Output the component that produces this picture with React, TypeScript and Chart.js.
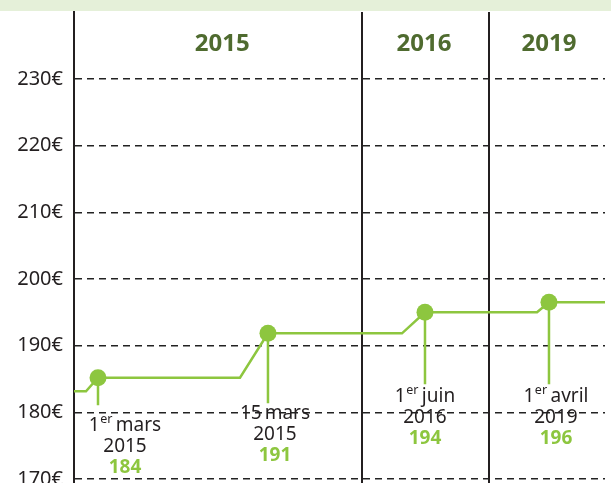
import React, { useEffect, useRef } from "react";
import { Chart, registerables } from "chart.js";

Chart.register(...registerables);

// ---- data ----
const lineX = [0, 2.26, 4.52, 31.26, 36.53, 61.77, 66.1, 87.2, 89.45, 100];
const lineY = [183.15, 183.15, 185.2, 185.2, 191.85, 191.85, 195.0, 195.0, 196.5, 196.5];
const markerIndex = [2, 4, 6, 8];
const stemEnd = [181.05, 181.35, 184.2, 184.2];
const dayLabels = ["1", "15", "1", "1"];
const supLabels = ["er", "", "er", "er"];
const monthLabels = ["mars", "mars", "juin", "avril"];
const yearLabels = ["2015", "2015", "2016", "2019"];
const valueLabels = ["184", "191", "194", "196"];
const periodSeparators = [54.24, 78.15];
const periodNames = ["2015", "2016", "2019"];
const periodCenters = [27.9, 65.9, 89.45];
const yTicks = [170, 180, 190, 200, 210, 220, 230];

// label placement (px offsets from stem end)
const labelDx = [27, 7, 0, 7];
const labelDy = [20, 10, 12, 12];

const GREEN = "#8dc63f";
const DARK = "#231f20";
const OLIVE = "#4f6b2f";
const FONT = "'Noto Sans', sans-serif";

export default function App() {
  const ref = useRef<HTMLCanvasElement | null>(null);

  useEffect(() => {
    document.body.style.margin = "0";
    const canvas = ref.current;
    if (!canvas) return;

    const decor = {
      id: "decor",
      beforeDraw(chart: any) {
        const { ctx, width } = chart;
        ctx.save();
        ctx.fillStyle = "#e5f0d9";
        ctx.fillRect(0, 0, width, 11);
        ctx.restore();
      },
      beforeDatasetsDraw(chart: any) {
        const { ctx, chartArea, scales } = chart;
        ctx.save();
        ctx.strokeStyle = DARK;
        ctx.lineWidth = 2;
        periodSeparators.forEach((v) => {
          const x = Math.round(scales.x.getPixelForValue(v));
          ctx.beginPath();
          ctx.moveTo(x, chartArea.top);
          ctx.lineTo(x, chartArea.bottom);
          ctx.stroke();
        });
        ctx.fillStyle = OLIVE;
        ctx.font = `bold 24px ${FONT}`;
        ctx.textAlign = "center";
        ctx.textBaseline = "middle";
        periodNames.forEach((n, i) => {
          ctx.fillText(n, scales.x.getPixelForValue(periodCenters[i]), 44);
        });
        ctx.restore();
      },
      afterDatasetsDraw(chart: any) {
        const { ctx, scales } = chart;
        ctx.save();
        ctx.textBaseline = "middle";
        markerIndex.forEach((idx, i) => {
          const cx = scales.x.getPixelForValue(lineX[idx]) + labelDx[i];
          const y0 = scales.y.getPixelForValue(stemEnd[i]) + labelDy[i];
          const mainFont = `19px ${FONT}`;
          const supFont = `12.5px ${FONT}`;
          ctx.font = mainFont;
          const wDay = ctx.measureText(dayLabels[i]).width;
          const wMonth = ctx.measureText(monthLabels[i]).width;
          const wSpace = ctx.measureText(" ").width * 0.6;
          ctx.font = supFont;
          const wSup = supLabels[i] ? ctx.measureText(supLabels[i]).width + 1 : 0;
          const total = wDay + wSup + wSpace + wMonth;
          let x = cx - total / 2;
          ctx.fillStyle = DARK;
          ctx.textAlign = "left";
          ctx.font = mainFont;
          ctx.fillText(dayLabels[i], x, y0);
          x += wDay;
          if (supLabels[i]) {
            ctx.font = supFont;
            ctx.fillText(supLabels[i], x + 0.5, y0 - 6);
            x += wSup;
          }
          x += wSpace;
          ctx.font = mainFont;
          ctx.fillText(monthLabels[i], x, y0);
          ctx.textAlign = "center";
          ctx.fillText(yearLabels[i], cx, y0 + 21.5);
          ctx.font = `bold 19px ${FONT}`;
          ctx.fillStyle = GREEN;
          ctx.fillText(valueLabels[i], cx, y0 + 42);
        });
        ctx.restore();
      },
    };

    const stemSets = markerIndex.map((idx, i) => ({
      data: [
        { x: lineX[idx], y: lineY[idx] },
        { x: lineX[idx], y: stemEnd[i] },
      ],
      borderColor: GREEN,
      borderWidth: 2.5,
      pointRadius: 0,
      order: 2,
    }));

    const chart = new Chart(canvas, {
      type: "line",
      data: {
        datasets: [
          {
            data: lineX.map((x, i) => ({ x, y: lineY[i] })),
            borderColor: GREEN,
            backgroundColor: GREEN,
            borderWidth: 2.5,
            pointRadius: (c: any) => (markerIndex.includes(c.dataIndex) ? 8.5 : 0),
            pointBackgroundColor: GREEN,
            pointBorderWidth: 0,
            tension: 0,
            order: 1,
          },
          ...stemSets,
        ],
      },
      options: {
        animation: false,
        responsive: false,
        layout: { padding: { top: 12, right: 6, left: 0, bottom: 0 } },
        plugins: { legend: { display: false }, tooltip: { enabled: false } },
        scales: {
          x: { type: "linear", min: 0, max: 100, display: false },
          y: {
            min: 169.4,
            max: 240.05,
            afterBuildTicks: (axis: any) => {
              axis.ticks = yTicks.map((v) => ({ value: v }));
            },
            afterFit: (axis: any) => {
              axis.width = 74;
              axis.paddingTop = 0;
              axis.paddingBottom = 0;
            },
            grid: { color: "#222", lineWidth: 1.4, drawTicks: false },
            border: { display: true, color: DARK, width: 2, dash: [7, 5] },
            ticks: {
              padding: 11,
              color: DARK,
              font: { family: "'Noto Sans', sans-serif", size: 20 },
              callback: (v: any) => `${v}€`,
            },
          },
        },
      },
      plugins: [decor],
    });
    return () => chart.destroy();
  }, []);

  return (
    <div style={{ width: 611, height: 483 }}>
      <canvas ref={ref} width={611} height={483} />
    </div>
  );
}
